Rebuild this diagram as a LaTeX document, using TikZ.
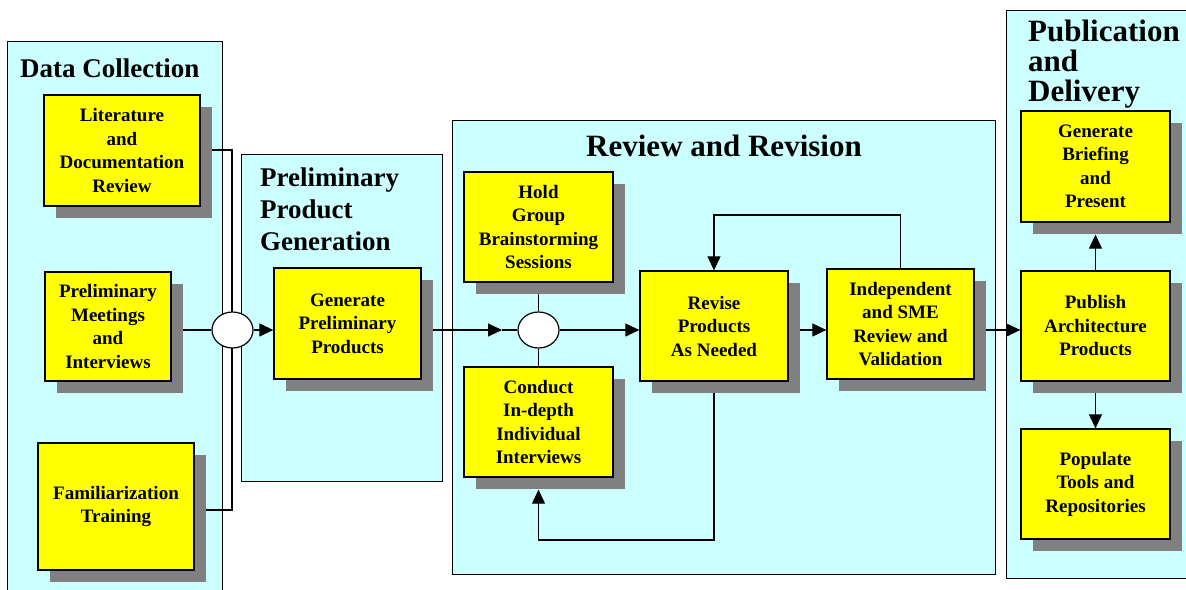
\documentclass[tikz,border=0pt]{standalone}
\usepackage{fontspec}
\setmainfont{Liberation Serif}
\usetikzlibrary{shadows,arrows.meta,shapes.geometric}
\definecolor{panel}{HTML}{CCFFFF}
\definecolor{boxy}{HTML}{FFFF00}
\definecolor{shade}{HTML}{808080}
\pgfdeclarelayer{back}\pgfdeclarelayer{conn}\pgfsetlayers{back,conn,main}
\begin{document}
\begin{tikzpicture}[x=1pt,y=-1pt,
 panelbox/.style={draw=black,fill=panel,line width=0.9pt},
 stepbox/.style={draw=black,fill=boxy,line width=1.3pt,align=center,
   font=\fontsize{19}{23.5}\selectfont\bfseries,inner sep=2pt,
   drop shadow={shadow xshift=12pt,shadow yshift=-12pt,fill=shade,opacity=1}},
 junction/.style={ellipse,draw=black,fill=white,line width=1.2pt,minimum width=41pt,minimum height=36pt,inner sep=0pt},
 conn/.style={draw=black,line width=1.1pt},
 arr/.style={conn,-{Triangle[length=14pt,width=13pt]}},
 ptitle/.style={font=\fontsize{27}{32}\selectfont\bfseries,align=left,inner sep=0pt},
 qtitle/.style={font=\fontsize{31}{30}\selectfont\bfseries,align=left,inner sep=0pt}
]
\useasboundingbox (0,0) rectangle (1186,589);
\begin{pgfonlayer}{back}
\draw[panelbox] (7,41) rectangle (222,600);
\draw[panelbox] (241,154) rectangle (442,481);
\draw[panelbox] (452,120) rectangle (995,574);
\draw[panelbox] (1006,10) rectangle (1200,578);
\end{pgfonlayer}
% titles
\node[ptitle,anchor=north west] (tdc) at (20,59) {Data Collection};
\node[ptitle,anchor=north west] (tpp) at (260,168) {Preliminary\\Product\\Generation};
\node[qtitle,anchor=base] (trr) at (724,156) {Review and Revision};
\node[qtitle,anchor=north west] (tpd) at (1028,20) {Publication\\and\\Delivery};
% boxes
\node[stepbox,minimum width=156pt,minimum height=111pt] (lit) at (122,150.5) {Literature\\and\\Documentation\\Review};
\node[stepbox,minimum width=126pt,minimum height=109pt] (meet) at (108,326.5) {Preliminary\\Meetings\\and\\Interviews};
\node[stepbox,minimum width=156pt,minimum height=127pt] (fam) at (116,506.5) {Familiarization\\Training};
\node[stepbox,minimum width=147pt,minimum height=111pt] (gen) at (347.5,323.5) {Generate\\Preliminary\\Products};
\node[stepbox,minimum width=149pt,minimum height=110pt] (hold) at (538.5,227) {Hold\\Group\\Brainstorming\\Sessions};
\node[stepbox,minimum width=149pt,minimum height=110pt] (cond) at (538.5,422) {Conduct\\In-depth\\Individual\\Interviews};
\node[stepbox,minimum width=148pt,minimum height=110pt] (rev) at (714,326) {Revise\\Products\\As Needed};
\node[stepbox,minimum width=147pt,minimum height=110pt] (ind) at (900.5,324) {Independent\\and SME\\Review and\\Validation};
\node[stepbox,minimum width=149pt,minimum height=111pt] (brief) at (1095.5,166.5) {Generate\\Briefing\\and\\Present};
\node[stepbox,minimum width=149pt,minimum height=110pt] (pub) at (1095.5,326) {Publish\\Architecture\\Products};
\node[stepbox,minimum width=149pt,minimum height=110pt] (pop) at (1095.5,484) {Populate\\Tools and\\Repositories};
% junctions
\node[junction] (e1) at (232.5,330) {};
\node[junction] (e2) at (538.5,330) {};
% helper coordinates
\coordinate (bt) at (232,150);
\coordinate (bb) at (232,510);
\coordinate (m2) at (502,330);
\coordinate (lt) at (0,215);
\coordinate (lb) at (0,540);
\coordinate (cs) at ([yshift=-12pt]cond.south);
\coordinate (bs) at ([yshift=-12pt]brief.south);
\begin{pgfonlayer}{conn}
\draw[conn] (lit.east |- bt) -- (bt) -- (bb) -- (fam.east |- bb);
\draw[conn] (meet.east |- e1) -- (e1.west);
\draw[arr] (e1.east) -- (gen.west |- e1);
\draw[arr] (gen.east |- e2) -- (m2);
\draw[conn] (m2) -- (e2.west);
\draw[conn] (hold.south) -- (e2.north);
\draw[conn] (e2.south) -- (cond.north);
\draw[arr] (e2.east) -- (rev.west |- e2);
\draw[arr] (rev.east |- e2) -- (ind.west |- e2);
\draw[arr] (ind.north) -- (ind.north |- lt) -| (rev.north);
\draw[arr] (rev.south) -- (rev.south |- lb) -| (cs);
\draw[arr] (ind.east |- e2) -- (pub.west |- e2);
\draw[arr] (pub.north) -- (bs);
\draw[arr] (pub.south) -- (pop.north);
\end{pgfonlayer}
\end{tikzpicture}
\end{document}
